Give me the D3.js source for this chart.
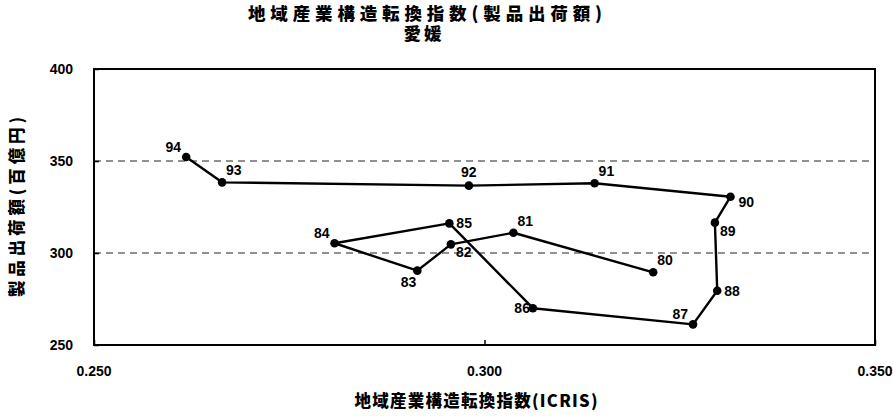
<!DOCTYPE html>
<html>
<head>
<meta charset="utf-8">
<script src="https://cdn.jsdelivr.net/npm/d3@7"></script>
<style>
  body { margin: 0; background: #fff; }
  text { font-family: 'Liberation Sans', 'Noto Sans CJK JP', sans-serif; font-weight: bold; fill: #000; }
  .jp { font-family: 'Noto Sans CJK JP', sans-serif; font-weight: 900; }
</style>
</head>
<body>
<svg id="chart"></svg>
<script>
// 年 (1980〜1994)
const years = ['80', '81', '82', '83', '84', '85', '86', '87', '88', '89', '90', '91', '92', '93', '94']
// 地域産業構造転換指数 (ICRIS)
const icris = [0.3216, 0.3037, 0.2957, 0.2914, 0.2808, 0.2955, 0.3062, 0.3267, 0.3298, 0.3295, 0.3315, 0.3141, 0.2980, 0.2664, 0.2618]
// 製品出荷額 (百億円)
const shipments = [289.5, 311.0, 304.7, 290.4, 305.3, 316.1, 270.0, 261.2, 279.5, 316.5, 330.6, 337.9, 336.6, 338.4, 352.2]
// ラベルの向き
const labelSide = ['ne', 'ne', 'se', 'sw', 'nw', 'e', 'w', 'nw', 'e', 'se', 'es', 'ne', 'n', 'ne', 'nw']

const xTicks = [0.25, 0.30, 0.35]
const yTicks = [250, 300, 350, 400]
const gridValues = [300, 350]

const width = 893
const height = 416
const margin = { top: 69, right: 18, bottom: 71, left: 94 }

const svg = d3.select('#chart').attr('width', width).attr('height', height)

const x = d3.scaleLinear().domain([0.25, 0.35]).range([margin.left, width - margin.right])
const y = d3.scaleLinear().domain([250, 400]).range([height - margin.bottom, margin.top])

// グリッド線
svg.append('g')
  .selectAll('line')
  .data(gridValues)
  .enter().append('line')
  .attr('x1', x(0.25)).attr('x2', x(0.35))
  .attr('y1', d => y(d)).attr('y2', d => y(d))
  .attr('stroke', '#222')
  .attr('stroke-width', 1)
  .attr('stroke-dasharray', '7,5')

// 枠
svg.append('rect')
  .attr('x', x(0.25)).attr('y', y(400))
  .attr('width', x(0.35) - x(0.25)).attr('height', y(250) - y(400))
  .attr('fill', 'none').attr('stroke', '#000').attr('stroke-width', 2)

// Y軸
const yAxis = svg.append('g')
  .attr('transform', `translate(${x(0.25)},0)`)
  .call(d3.axisRight(y).tickValues(yTicks).tickSize(5).tickFormat(''))
yAxis.select('.domain').remove()
yAxis.selectAll('line').attr('stroke', '#000').attr('stroke-width', 1.5)

svg.append('g')
  .selectAll('text')
  .data(yTicks)
  .enter().append('text')
  .attr('x', x(0.25) - 21)
  .attr('y', d => y(d))
  .attr('dy', '0.36em')
  .attr('text-anchor', 'end')
  .attr('font-size', 14)
  .text(d => d)

// X軸
const xAxis = svg.append('g')
  .attr('transform', `translate(0,${y(250)})`)
  .call(d3.axisTop(x).tickValues(xTicks).tickSize(5).tickFormat(''))
xAxis.select('.domain').remove()
xAxis.selectAll('line').attr('stroke', '#000').attr('stroke-width', 1.5)

svg.append('g')
  .selectAll('text')
  .data(xTicks)
  .enter().append('text')
  .attr('x', d => x(d))
  .attr('y', y(250) + 31)
  .attr('text-anchor', 'middle')
  .attr('font-size', 14)
  .text(d => d3.format('.3f')(d))

// 折れ線
const data = years.map((yr, i) => ({ yr, x: icris[i], y: shipments[i], side: labelSide[i] }))

svg.append('path')
  .datum(data)
  .attr('fill', 'none')
  .attr('stroke', '#000')
  .attr('stroke-width', 2.4)
  .attr('stroke-linejoin', 'round')
  .attr('d', d3.line().x(d => x(d.x)).y(d => y(d.y)))

svg.append('g')
  .selectAll('circle')
  .data(data)
  .enter().append('circle')
  .attr('cx', d => x(d.x))
  .attr('cy', d => y(d.y))
  .attr('r', 4.3)
  .attr('fill', '#000')

const off = {
  n: [0, -9, 'middle'],
  ne: [4, -7, 'start'],
  e: [7, 5, 'start'],
  es: [8, 10, 'start'],
  se: [5, 13, 'start'],
  s: [0, 18, 'middle'],
  sw: [-1, 16, 'end'],
  w: [-3, 5, 'end'],
  nw: [-5, -5, 'end']
}

svg.append('g')
  .selectAll('text')
  .data(data)
  .enter().append('text')
  .attr('x', d => x(d.x) + off[d.side][0])
  .attr('y', d => y(d.y) + off[d.side][1])
  .attr('text-anchor', d => off[d.side][2])
  .attr('font-size', 14)
  .text(d => d.yr)

// タイトル
svg.append('text')
  .attr('class', 'jp')
  .attr('x', 425).attr('y', 20)
  .attr('text-anchor', 'middle')
  .attr('font-size', 17.5)
  .attr('textLength', 354)
  .attr('lengthAdjust', 'spacing')
  .text('地域産業構造転換指数(製品出荷額)')

svg.append('text')
  .attr('class', 'jp')
  .attr('x', 424).attr('y', 40)
  .attr('text-anchor', 'middle')
  .attr('font-size', 17.5)
  .attr('letter-spacing', 3)
  .text('愛媛')

// 軸タイトル
svg.append('text')
  .attr('class', 'jp')
  .attr('x', 476).attr('y', 407)
  .attr('text-anchor', 'middle')
  .attr('font-size', 16.5)
  .attr('textLength', 243)
  .attr('lengthAdjust', 'spacing')
  .text('地域産業構造転換指数(ICRIS)')

svg.append('text')
  .attr('class', 'jp')
  .attr('transform', 'translate(23,207) rotate(-90)')
  .attr('text-anchor', 'middle')
  .attr('font-size', 16.5)
  .attr('textLength', 180)
  .attr('lengthAdjust', 'spacing')
  .text('製品出荷額(百億円)')
</script>
</body>
</html>
